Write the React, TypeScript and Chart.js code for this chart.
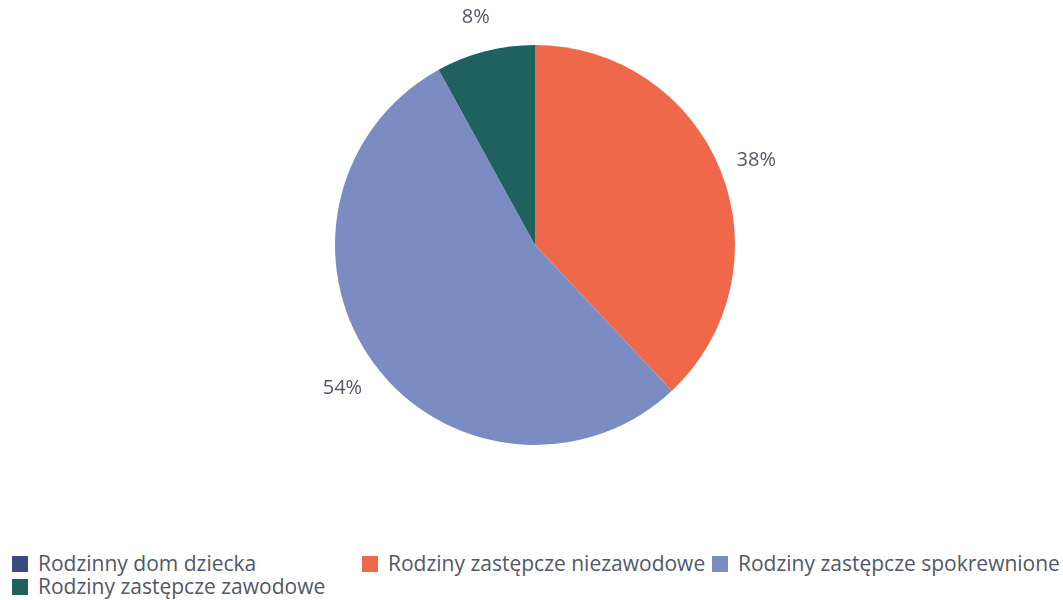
import React, { useEffect, useRef } from "react";
import { Chart, registerables } from "chart.js";

Chart.register(...registerables);

const categories = [
  "Rodzinny dom dziecka",
  "Rodziny zastępcze niezawodowe",
  "Rodziny zastępcze spokrewnione",
  "Rodziny zastępcze zawodowe",
];
const values = [0, 38, 54, 8];
const colors = ["#3b4a7c", "#f0684a", "#7b8cc2", "#1f615f"];
const labelColor = "#525866";
const fontFamily = "'Open Sans', sans-serif";

const labelPlugin = {
  id: "outerLabels",
  afterDatasetsDraw(chart: any) {
    const meta = chart.getDatasetMeta(0);
    const ctx = chart.ctx;
    const total = values.reduce((a, b) => a + b, 0);
    ctx.save();
    ctx.font = `20px ${fontFamily}`;
    ctx.fillStyle = labelColor;
    ctx.textAlign = "center";
    ctx.textBaseline = "middle";
    meta.data.forEach((arc: any, i: number) => {
      if (!values[i]) return;
      const { x, y, startAngle, endAngle, outerRadius } = arc.getProps(
        ["x", "y", "startAngle", "endAngle", "outerRadius"],
        true
      );
      const mid = (startAngle + endAngle) / 2;
      const r = outerRadius + 38;
      const pct = Math.round((values[i] / total) * 100);
      ctx.fillText(pct + "%", x + Math.cos(mid) * r, y + Math.sin(mid) * r + 3);
    });
    ctx.restore();
  },
};

export default function App() {
  const ref = useRef<HTMLCanvasElement>(null);
  useEffect(() => {
    if (!ref.current) return;
    const chart = new Chart(ref.current, {
      type: "pie",
      data: {
        labels: categories,
        datasets: [
          {
            data: values,
            backgroundColor: colors,
            borderWidth: 0,
          },
        ],
      },
      options: {
        animation: false,
        responsive: false,
        layout: { padding: { top: 45, bottom: 95, left: 7, right: 0 } },
        plugins: {
          legend: { display: false },
          tooltip: { enabled: false },
        },
      },
      plugins: [labelPlugin],
    });
    return () => chart.destroy();
  }, []);

  const legendPos = [
    { left: 12, top: 552 },
    { left: 362, top: 552 },
    { left: 712, top: 552 },
    { left: 12, top: 575 },
  ];

  return (
    <div
      style={{
        position: "absolute",
        left: 0,
        top: 0,
        width: 1063,
        height: 600,
        background: "#fff",
        overflow: "hidden",
        fontFamily,
      }}
    >
      <canvas
        ref={ref}
        width={1063}
        height={540}
        style={{ position: "absolute", left: 0, top: 0, width: 1063, height: 540 }}
      />
      {categories.map((c, i) => (
        <div
          key={c}
          style={{
            position: "absolute",
            left: legendPos[i].left,
            top: legendPos[i].top,
            display: "flex",
            alignItems: "center",
            whiteSpace: "nowrap",
            fontSize: 21,
            lineHeight: "23px",
            color: labelColor,
          }}
        >
          <span
            style={{
              display: "inline-block",
              width: 16,
              height: 16,
              background: colors[i],
              marginRight: 10,
            }}
          />
          {c}
        </div>
      ))}
    </div>
  );
}
